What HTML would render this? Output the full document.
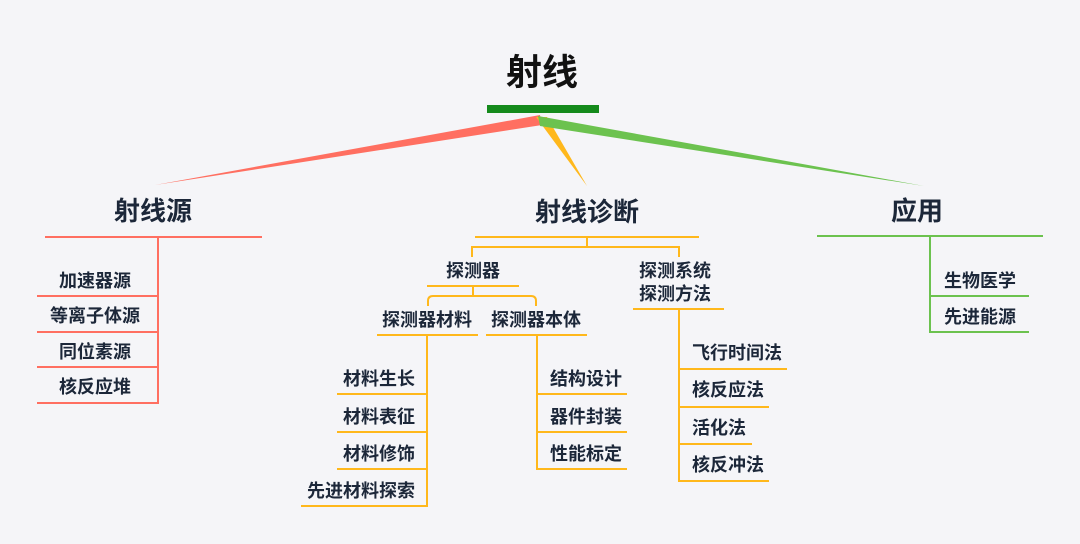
<!DOCTYPE html>
<html><head><meta charset="utf-8"><style>
html,body{margin:0;padding:0;background:#f5f5f8;}
svg{display:block;}
text{font-family:"Liberation Sans","Noto Sans CJK SC",sans-serif;font-weight:700;fill:#1c2739;dominant-baseline:central;}
.h{font-size:26px;text-anchor:middle;}
.i{font-size:18px;}
.c{text-anchor:middle;}
.r{text-anchor:end;}
</style></head><body>
<svg width="1080" height="544" viewBox="0 0 1080 544" xmlns="http://www.w3.org/2000/svg">
<rect width="1080" height="544" fill="#f5f5f8"/>
<!-- title -->
<text x="542" y="72" style="font-size:36px;fill:#111;text-anchor:middle">射线</text>
<!-- branches -->
<polygon points="540,115 542,125 155,185" fill="#ff6f61"/>
<polygon points="536,117 547,117 587,186" fill="#ffb81c"/>
<polygon points="538,116 540,126 924,186" fill="#6cc24f"/>
<rect x="487" y="105" width="112" height="8" fill="#158a1c"/>

<!-- LEFT: 射线源 -->
<text class="h" x="153" y="211">射线源</text>
<g stroke="#ff6f61" stroke-width="2" fill="none">
<line x1="45" y1="237" x2="262" y2="237"/>
<line x1="158" y1="237" x2="158" y2="404"/>
<line x1="37" y1="296" x2="158" y2="296"/>
<line x1="37" y1="332" x2="158" y2="332"/>
<line x1="37" y1="367" x2="158" y2="367"/>
<line x1="37" y1="403" x2="158" y2="403"/>
</g>
<text class="i c" x="95" y="281">加速器源</text>
<text class="i c" x="95" y="316">等离子体源</text>
<text class="i c" x="95" y="352">同位素源</text>
<text class="i c" x="95" y="387">核反应堆</text>

<!-- CENTER: 射线诊断 -->
<text class="h" x="587" y="212">射线诊断</text>
<g stroke="#ffb81c" stroke-width="2" fill="none">
<line x1="475" y1="237" x2="699" y2="237"/>
<line x1="587" y1="237" x2="587" y2="247"/>
<polyline points="472,257 472,247 679,247 679,257"/>
<line x1="427" y1="286" x2="519" y2="286"/>
<line x1="473" y1="286" x2="473" y2="296"/>
<path d="M428,306 V301 Q428,296 433,296 H531 Q536,296 536,301 V306"/>
<line x1="377" y1="335" x2="478" y2="335"/>
<line x1="486" y1="335" x2="587" y2="335"/>
<line x1="427" y1="335" x2="427" y2="507"/>
<line x1="337" y1="394" x2="427" y2="394"/>
<line x1="337" y1="432" x2="427" y2="432"/>
<line x1="337" y1="469" x2="427" y2="469"/>
<line x1="301" y1="506" x2="427" y2="506"/>
<line x1="537" y1="335" x2="537" y2="470"/>
<line x1="537" y1="394" x2="627" y2="394"/>
<line x1="537" y1="432" x2="627" y2="432"/>
<line x1="537" y1="469" x2="627" y2="469"/>
<line x1="633" y1="309" x2="724" y2="309"/>
<line x1="679" y1="309" x2="679" y2="482"/>
<line x1="679" y1="369" x2="787" y2="369"/>
<line x1="679" y1="407" x2="769" y2="407"/>
<line x1="679" y1="444" x2="752" y2="444"/>
<line x1="679" y1="481" x2="769" y2="481"/>
</g>
<text class="i c" x="473" y="271">探测器</text>
<text class="i c" x="427" y="320">探测器材料</text>
<text class="i c" x="536" y="320">探测器本体</text>
<text class="i r" x="415" y="379">材料生长</text>
<text class="i r" x="415" y="417">材料表征</text>
<text class="i r" x="415" y="454">材料修饰</text>
<text class="i r" x="415" y="491">先进材料探索</text>
<text class="i" x="550" y="379">结构设计</text>
<text class="i" x="550" y="417">器件封装</text>
<text class="i" x="550" y="454">性能标定</text>
<text class="i c" x="675" y="271">探测系统</text>
<text class="i c" x="675" y="294">探测方法</text>
<text class="i" x="692" y="353">飞行时间法</text>
<text class="i" x="692" y="390">核反应法</text>
<text class="i" x="692" y="428">活化法</text>
<text class="i" x="692" y="465">核反冲法</text>

<!-- RIGHT: 应用 -->
<text class="h" x="917" y="211">应用</text>
<g stroke="#6cc24f" stroke-width="2" fill="none">
<line x1="817" y1="236" x2="1043" y2="236"/>
<line x1="930" y1="236" x2="930" y2="333"/>
<line x1="930" y1="296" x2="1029" y2="296"/>
<line x1="930" y1="332" x2="1029" y2="332"/>
</g>
<text class="i" x="944" y="281">生物医学</text>
<text class="i" x="944" y="317">先进能源</text>
</svg>
</body></html>
